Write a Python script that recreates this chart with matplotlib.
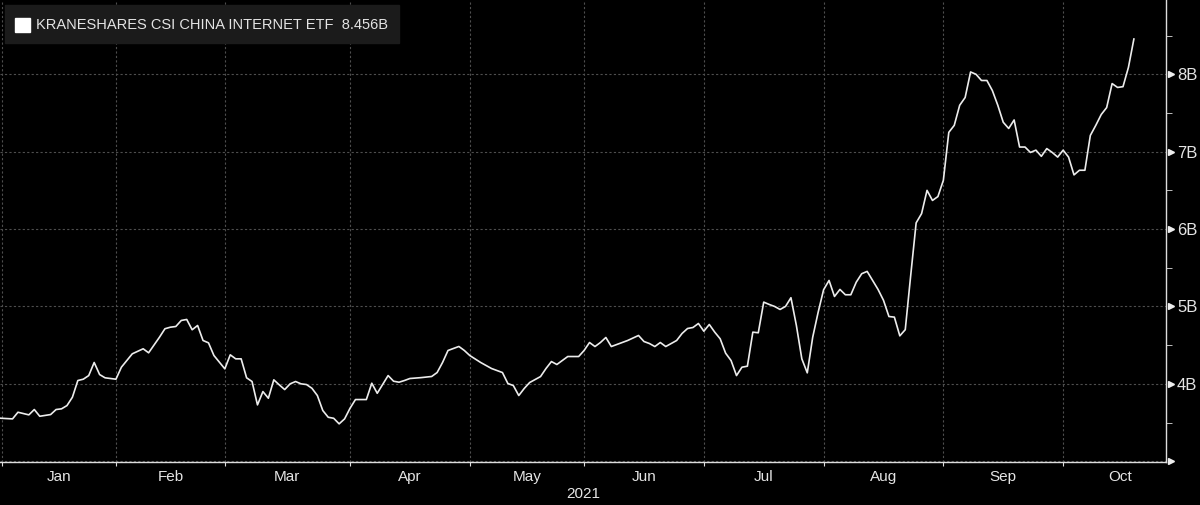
import matplotlib
matplotlib.use("Agg")
import matplotlib.pyplot as plt
from matplotlib.patches import Rectangle
import numpy as np

# business-day number since 1 Jan 2021 and fund size in billions
day = [-1, 0, 2, 3, 5, 6, 7, 9, 10, 11, 12, 13, 14, 15, 16, 17, 18, 19, 21, 22,
       24, 26, 27, 29, 30, 31, 32, 33, 34, 35, 36, 37, 38, 39, 40, 41, 42, 43, 44, 45,
       46, 47, 48, 49, 50, 51, 52, 53, 54, 55, 56, 57, 58, 59, 60, 61, 62, 63, 64, 65,
       67, 68, 69, 71, 72, 73, 74, 75, 77, 79, 80, 81, 82, 84, 85, 86, 88, 89, 90, 92,
       93, 94, 95, 96, 97, 99, 100, 101, 102, 103, 104, 106, 107, 108, 109, 110, 111, 112, 113, 114,
       115, 117, 118, 119, 120, 121, 122, 124, 125, 126, 127, 128, 129, 130, 131, 132, 133, 134, 135, 136,
       137, 138, 139, 140, 141, 142, 143, 144, 145, 146, 147, 148, 149, 150, 151, 152, 153, 154, 155, 156,
       157, 158, 159, 160, 161, 162, 163, 164, 165, 166, 167, 168, 169, 170, 171, 172, 173, 174, 175, 176,
       177, 178, 179, 180, 181, 182, 183, 184, 185, 186, 187, 188, 189, 190, 191, 192, 193, 194, 195, 196,
       197, 198, 199, 200, 201, 202, 203, 204, 205, 206, 207, 208]
aum = [3.56, 3.555, 3.547, 3.633, 3.599, 3.668, 3.581, 3.603, 3.668, 3.677, 3.719, 3.827, 4.043, 4.06, 4.107, 4.276, 4.12, 4.078, 4.06, 4.215,
       4.388, 4.453, 4.401, 4.603, 4.712, 4.732, 4.741, 4.819, 4.832, 4.699, 4.754, 4.56, 4.53, 4.366, 4.279, 4.194, 4.375, 4.323, 4.323, 4.078,
       4.03, 3.728, 3.9, 3.814, 4.052, 3.987, 3.926, 4.0, 4.03, 4.0, 3.991, 3.943, 3.849, 3.655, 3.568, 3.555, 3.483, 3.547, 3.684, 3.797,
       3.797, 4.008, 3.878, 4.107, 4.034, 4.021, 4.043, 4.069, 4.08, 4.095, 4.146, 4.276, 4.431, 4.483, 4.431, 4.366, 4.276, 4.237, 4.198, 4.146,
       4.004, 3.978, 3.849, 3.94, 4.017, 4.094, 4.198, 4.288, 4.25, 4.302, 4.353, 4.353, 4.431, 4.534, 4.482, 4.534, 4.599, 4.482, 4.508, 4.534,
       4.56, 4.625, 4.547, 4.521, 4.482, 4.534, 4.482, 4.56, 4.651, 4.715, 4.728, 4.78, 4.68, 4.767, 4.668, 4.582, 4.396, 4.301, 4.107, 4.215,
       4.228, 4.668, 4.66, 5.056, 5.026, 5.0, 4.961, 5.0, 5.113, 4.754, 4.323, 4.142, 4.603, 4.926, 5.216, 5.336, 5.129, 5.22, 5.151, 5.151,
       5.314, 5.423, 5.453, 5.336, 5.22, 5.08, 4.87, 4.862, 4.62, 4.70, 5.40, 6.08, 6.2, 6.5, 6.37, 6.42, 6.63, 7.25, 7.34, 7.6,
       7.7, 8.03, 8.0, 7.92, 7.92, 7.79, 7.6, 7.38, 7.3, 7.41, 7.06, 7.06, 6.99, 7.02, 6.94, 7.04, 6.99, 6.93, 7.02, 6.93,
       6.7, 6.76, 6.76, 7.21, 7.34, 7.48, 7.57, 7.88, 7.83, 7.84, 8.09, 8.456]

months = ["Jan", "Feb", "Mar", "Apr", "May", "Jun", "Jul", "Aug", "Sep", "Oct"]
month_starts = ["2021-%02d-01" % m for m in range(1, 12)]
yticks = [3, 4, 5, 6, 7, 8]
ylabels = ["", "4B", "5B", "6B", "7B", "8B"]
legend_text = "KRANESHARES CSI CHINA INTERNET ETF  8.456B"

fontfam = ["Liberation Sans Narrow", "Liberation Sans", "DejaVu Sans"]
txt = "#e4e4e4"

fig = plt.figure(figsize=(12, 5.05), dpi=100)
fig.patch.set_facecolor("black")
ax = fig.add_axes([0.0, 1 - 462 / 505, 1166 / 1200, 462 / 505])
ax.set_facecolor("black")

ax.plot(day, aum, color="#ececec", lw=1.2, zorder=3)

# month boundaries as ticks + grid, labels in the middle of each month
bounds = [np.busday_count("2021-01-01", d) for d in month_starts]
mids = [(bounds[k] + bounds[k + 1]) / 2 for k in range(len(months))]
ax.set_xticks(bounds[:10])
ax.set_xticklabels([])
ax.set_xticks(mids, minor=True)
ax.set_xticklabels(months, minor=True, fontsize=11, color=txt, family=fontfam)
ax.tick_params(axis="x", which="major", length=3, color="#dddddd", direction="out")
ax.tick_params(axis="x", which="minor", length=0, pad=6)
ax.set_xlim(-0.3, 213.9)

ax.set_ylim(2.99, 8.96)
ax.yaxis.tick_right()
ax.set_yticks(yticks)
ax.set_yticklabels(ylabels, fontsize=12, color=txt, family=fontfam)
ax.set_yticks(np.arange(3.5, 9, 1.0), minor=True)
ax.tick_params(axis="y", which="major", length=0, pad=8)
ax.tick_params(axis="y", which="minor", length=4, color="#dddddd", direction="out")
# small pointer triangles at the major y ticks
ax.plot([1.004] * len(yticks), yticks, ls="", marker=">", ms=5, color="#eeeeee",
        transform=ax.get_yaxis_transform(), clip_on=False)

ax.grid(True, which="major", color="#4e4e4e", lw=0.8, linestyle=(0, (2, 2)))

for s in ["left", "top"]:
    ax.spines[s].set_visible(False)
for s in ["right", "bottom"]:
    ax.spines[s].set_color("#dddddd")
    ax.spines[s].set_linewidth(1.0)

ax.set_xlabel("2021", fontsize=11, color=txt, family=fontfam, labelpad=2)

# legend box
fig.patches.append(Rectangle((5 / 1200, 1 - 43 / 505), 394 / 1200, 38 / 505,
                             transform=fig.transFigure, color="#1b1b1b", zorder=5))
fig.patches.append(Rectangle((15 / 1200, 1 - 32 / 505), 15 / 1200, 14 / 505,
                             transform=fig.transFigure, color="white", zorder=6))
fig.text(36 / 1200, 1 - 25 / 505, legend_text, fontsize=10.5, color=txt,
         family=fontfam, va="center", ha="left", zorder=7)

fig.savefig("out.png", dpi=100, facecolor="black")
